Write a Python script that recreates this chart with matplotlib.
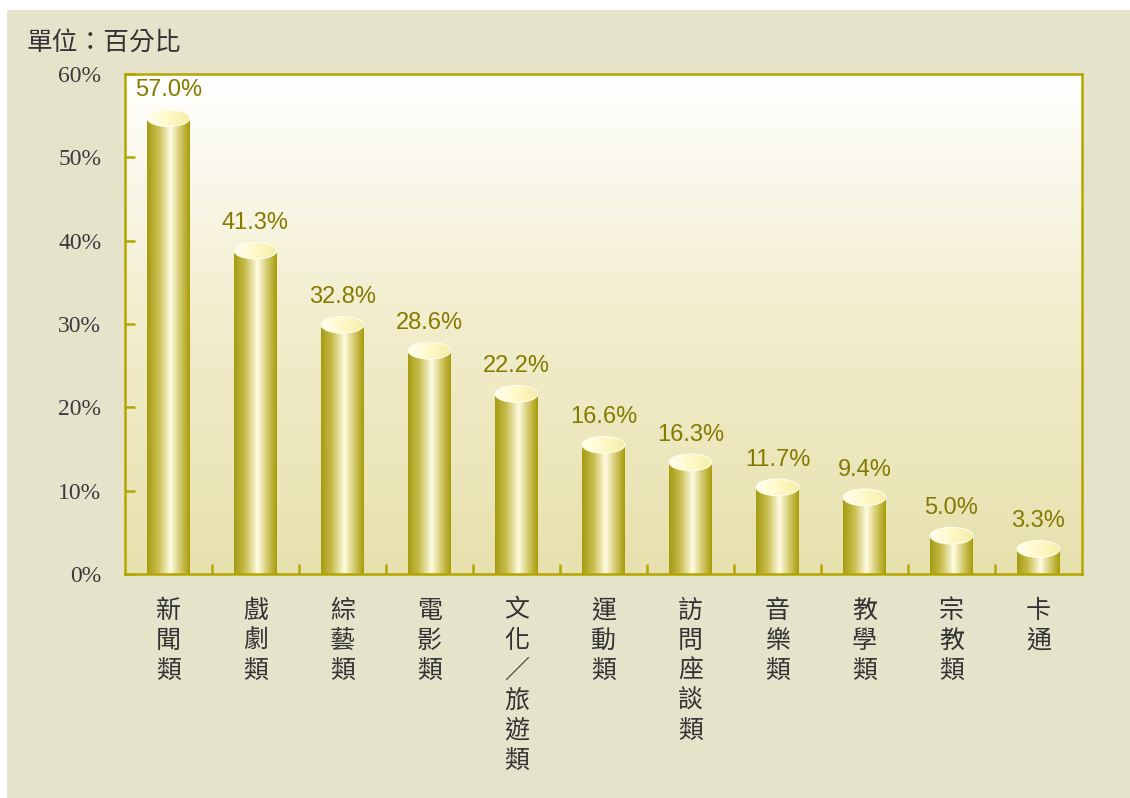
import numpy as np
import matplotlib.pyplot as plt
from matplotlib.patches import Ellipse, Rectangle
from matplotlib.colors import LinearSegmentedColormap

categories = ['新聞類', '戲劇類', '綜藝類', '電影類', '文化／旅遊類', '運動類',
              '訪問座談類', '音樂類', '教學類', '宗教類', '卡通']
values = [57.0, 41.3, 32.8, 28.6, 22.2, 16.6, 16.3, 11.7, 9.4, 5.0, 3.3]
# bar tops as drawn in the picture (the source chart draws them a bit short)
bar_heights = [54.7, 38.8, 29.9, 26.8, 21.6, 15.5, 13.4, 10.4, 9.2, 4.6, 3.0]
yticks = [0, 10, 20, 30, 40, 50, 60]
ytick_labels = ['0%', '10%', '20%', '30%', '40%', '50%', '60%']

olive = '#B3A600'
panel = '#E6E3CB'

fig = plt.figure(figsize=(11.3, 7.98), dpi=100)
fig.patch.set_facecolor('white')
fig.patches.append(Rectangle((7 / 1130, 0), 1, 788 / 798, transform=fig.transFigure,
                             facecolor=panel, edgecolor='none', zorder=-10))

ax = fig.add_axes([0.1106, 0.2807, 0.8469, 0.6266])
ax.set_xlim(-0.5, len(categories) - 0.5)
ax.set_ylim(0, 60)

# background gradient of the plot area
bg = LinearSegmentedColormap.from_list('bg', ['#E7E1AE', '#F2EDCC', '#FFFFFF'])
ax.imshow(np.linspace(0, 1, 256).reshape(-1, 1), cmap=bg, origin='lower',
          extent=[-0.5, len(categories) - 0.5, 0, 60], aspect='auto', zorder=0)

cyl = LinearSegmentedColormap.from_list('cyl', [
    (0.0, '#A59B12'), (0.25, '#C7BC4C'), (0.55, '#FFFCE2'),
    (0.8, '#CFC563'), (1.0, '#A79C08')])
top = LinearSegmentedColormap.from_list('top', ['#FFFEF0', '#FFF9C8', '#F6EDA8'])

w = 0.49
eh = 2.0
grad = np.linspace(0, 1, 128).reshape(1, -1)
for i, h in enumerate(bar_heights):
    ax.imshow(grad, cmap=cyl, extent=[i - w / 2, i + w / 2, 0, h],
              aspect='auto', zorder=2)
    e = Ellipse((i, h), w, eh, facecolor='none', edgecolor='#FFFDF0', lw=0.8, zorder=4)
    ax.add_patch(e)
    im = ax.imshow(grad, cmap=top, extent=[i - w / 2, i + w / 2, h - eh / 2, h + eh / 2],
                   aspect='auto', zorder=3)
    im.set_clip_path(e)
    ax.annotate(f'{values[i]:.1f}%', (i, h), xytext=(0, 20), textcoords='offset points',
                ha='center', va='center', fontsize=17, color='#857A00',
                family=['Liberation Sans Narrow', 'Liberation Sans'], zorder=5)

ax.set_xlim(-0.5, len(categories) - 0.5)
ax.set_ylim(0, 60)

for s in ax.spines.values():
    s.set_color(olive)
    s.set_linewidth(1.8)
    s.set_zorder(6)

ax.set_yticks(yticks)
ax.set_yticklabels(ytick_labels, family='Liberation Serif', fontsize=17, color='#3a3a3a')
ax.tick_params(axis='y', direction='in', length=7, width=1.8, color=olive, pad=17)

ax.set_xticks(range(len(categories)))
ax.set_xticklabels(['\n'.join(c) for c in categories], family='Noto Sans CJK TC',
                   fontsize=18, color='#333333', linespacing=1.2, fontweight='light')
ax.set_xticks(np.arange(0.5, len(categories) - 1, 1), minor=True)
ax.tick_params(axis='x', which='major', length=0, pad=17)
ax.tick_params(axis='x', which='minor', direction='in', length=7, width=1.8, color=olive)

fig.text(27 / 1130, 1 - 43 / 798, '單位：百分比', family='Noto Sans CJK TC', fontsize=18.5,
         fontweight='light', color='#333333', va='center', ha='left')

fig.savefig('out.png', dpi=100)
